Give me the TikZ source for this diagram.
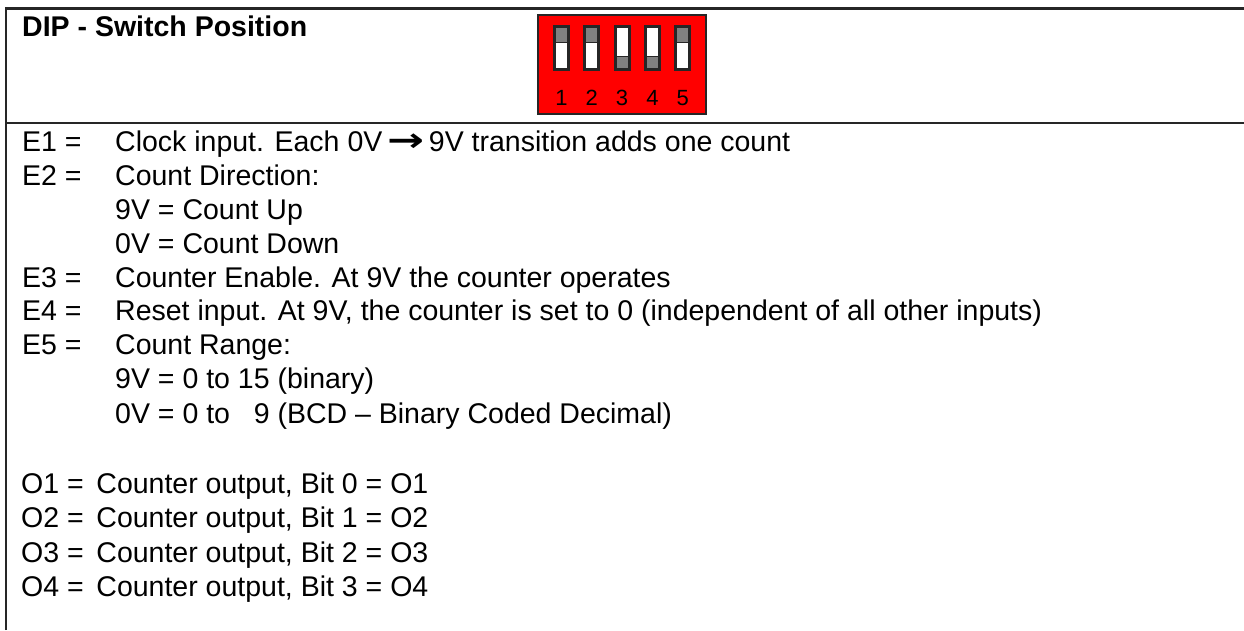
\documentclass[tikz,border=0pt]{standalone}
\usepackage{fontspec}
\setmainfont{Liberation Sans}
\newfontfamily\arrowfont{DejaVu Sans}
\definecolor{dipred}{RGB}{255,0,0}
\definecolor{knobgray}{RGB}{128,128,128}
\newcommand{\bigarrow}{\scalebox{1.55}[1.15]{\arrowfont\bfseries →}}
\tikzset{
  row/.style={anchor=base west, inner sep=0pt, font=\fontsize{28.5}{34}\selectfont},
  frame/.style={line width=2.6pt, black!85},
  switchbox/.style={draw=black!85, line width=3pt, fill=white},
  knob/.style={fill=knobgray},
  digit/.style={anchor=base, inner sep=0pt, font=\fontsize{22}{24}\selectfont}
}
\begin{document}
\begin{tikzpicture}[x=1pt, y=-1pt]
    \useasboundingbox (0,0) rectangle (1244,630);
    % frame lines
    \draw[frame] (6,630) -- (6,8.7) -- (1244,8.7);
    \draw[frame] (6,123) -- (1244,123);
    % heading
    \node[row, font=\bfseries\fontsize{28.5}{34}\selectfont] (title) at (22,36) {DIP - Switch Position};
    % dip switch block
    \draw[fill=dipred, draw=black!85, line width=1.5pt] (538,15) rectangle (706,114);
    \foreach \i/\up in {1/1, 2/1, 3/0, 4/0, 5/1} {
        \pgfmathsetmacro{\sx}{553+(\i-1)*30.3}
        \draw[switchbox] (\sx+1.5,26.5) rectangle (\sx+15.5,69.5);
        \ifnum\up=1
            \fill[knob] (\sx+3,28) rectangle (\sx+14,42);
            \draw[black!85, line width=0.8pt] (\sx+3,42) -- (\sx+14,42);
        \else
            \fill[knob] (\sx+3,56) rectangle (\sx+14,68);
            \draw[black!85, line width=0.8pt] (\sx+3,56) -- (\sx+14,56);
        \fi
        \node[digit] (num\i) at (\sx+8.5,105) {\i};
    }
    % inputs
    \node[row] (e1lbl) at (22,151) {E1 =};
    \node[row] (e1txt) at (115,151) {Clock input. Each 0V\,\bigarrow\,9V transition adds one count};
    \node[row] (e2lbl) at (22,185) {E2 =};
    \node[row] (e2txt) at (115,185) {Count Direction:};
    \node[row] (e2up) at (115,219) {9V = Count Up};
    \node[row] (e2down) at (115,253) {0V = Count Down};
    \node[row] (e3lbl) at (22,287) {E3 =};
    \node[row] (e3txt) at (115,287) {Counter Enable. At 9V the counter operates};
    \node[row] (e4lbl) at (22,320) {E4 =};
    \node[row] (e4txt) at (115,320) {Reset input. At 9V, the counter is set to 0 (independent of all other inputs)};
    \node[row] (e5lbl) at (22,354) {E5 =};
    \node[row] (e5txt) at (115,354) {Count Range:};
    \node[row] (e5bin) at (115,388) {9V = 0 to 15 (binary)};
    \node[row] (e5bcd) at (115,423) {0V = 0 to \hphantom{1}9 (BCD – Binary Coded Decimal)};
    % outputs
    \node[row] (o1) at (21,493) {O1 =\, Counter output, Bit 0 = O1};
    \node[row] (o2) at (21,527) {O2 =\, Counter output, Bit 1 = O2};
    \node[row] (o3) at (21,562) {O3 =\, Counter output, Bit 2 = O3};
    \node[row] (o4) at (21,596) {O4 =\, Counter output, Bit 3 = O4};
\end{tikzpicture}
\end{document}
